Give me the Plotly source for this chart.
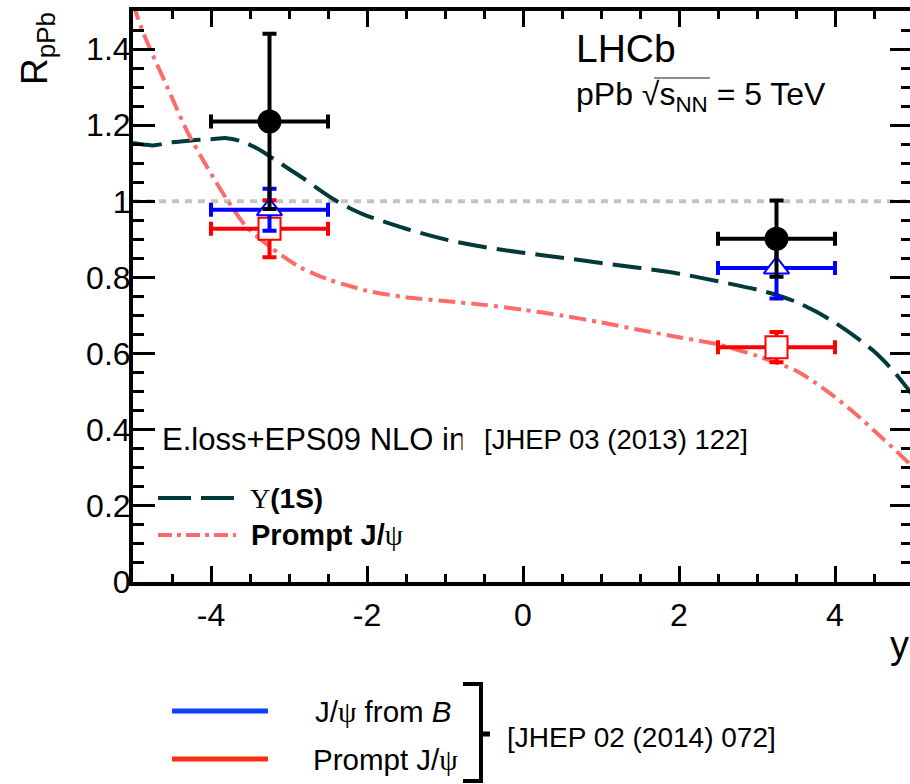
import plotly.graph_objects as go

# ---------------- data ----------------
# Theory: E.loss+EPS09 NLO, Upsilon(1S)
ups_th_x = [-5.0, -4.75, -4.5, -4.25, -4.0, -3.8, -3.6, -3.4, -3.2, -3.0, -2.8, -2.6, -2.4, -2.2,
            -2.0, -1.5, -1.0, -0.5, 0.0, 0.5, 1.0, 1.5, 2.0, 2.5, 3.0, 3.25, 3.5, 3.75, 4.0, 4.25,
            4.5, 4.75, 5.0]
ups_th_y = [1.153, 1.147, 1.155, 1.160, 1.163, 1.166, 1.157, 1.138, 1.112, 1.085, 1.058, 1.029,
            1.002, 0.980, 0.962, 0.928, 0.900, 0.880, 0.865, 0.852, 0.838, 0.825, 0.810, 0.790,
            0.768, 0.754, 0.736, 0.711, 0.681, 0.646, 0.606, 0.554, 0.490]
# Theory: E.loss+EPS09 NLO, prompt J/psi
jpsi_th_x = [-5.0, -4.9, -4.78, -4.56, -4.31, -4.05, -3.79, -3.54, -3.24, -2.86, -2.5, -2.26,
             -2.0, -1.5, -1.0, -0.5, 0.0, 0.5, 1.0, 1.5, 2.0, 2.5, 3.0, 3.5, 3.75, 4.0, 4.25,
             4.5, 4.75, 5.0]
jpsi_th_y = [1.52, 1.46, 1.40, 1.30, 1.186, 1.09, 1.003, 0.932, 0.880, 0.827, 0.795, 0.780,
             0.765, 0.748, 0.738, 0.728, 0.715, 0.700, 0.682, 0.662, 0.643, 0.624, 0.594, 0.555,
             0.523, 0.486, 0.444, 0.398, 0.351, 0.302]

# Measurements (rapidity bins)
bin_x = [-3.25, 3.25]
bin_xerr = [0.75, 0.75]
ups_y = [1.21, 0.902]
ups_err = [0.23, 0.10]
bjpsi_y = [0.978, 0.825]
bjpsi_err = [0.055, 0.08]
pjpsi_y = [0.928, 0.617]
pjpsi_err = [0.075, 0.04]

y_tickvals = [0, 0.2, 0.4, 0.6, 0.8, 1.0, 1.2, 1.4]
y_ticktext = ["0", "0.2", "0.4", "0.6", "0.8", "1", "1.2", "1.4"]
x_tickvals = [-4, -2, 0, 2, 4]
x_ticktext = ["-4", "-2", "0", "2", "4"]

# ---------------- geometry helpers (pixel -> paper) ----------------
W, H = 910, 784
L, R, T, B = 133, 0, 11, 202
PW, PH = W - L - R, H - T - B


def xp(px):
    return (px - L) / PW


def yp(py):
    return (H - B - py) / PH


FONT = "Liberation Sans, Arial, Helvetica, sans-serif"
UPS_COL = "#003a3a"
JPSI_COL = "#ff6b6b"
SER = "<span style='font-family:Liberation Serif'>%s</span>"

fig = go.Figure()

fig.add_trace(go.Scatter(x=ups_th_x, y=ups_th_y, mode="lines",
                         line=dict(color=UPS_COL, width=4, dash="29px,10px", shape="spline",
                                   smoothing=0.8),
                         hoverinfo="skip"))
fig.add_trace(go.Scatter(x=jpsi_th_x, y=jpsi_th_y, mode="lines",
                         line=dict(color=JPSI_COL, width=4, dash="17px,6px,4px,6px", shape="spline",
                                   smoothing=0.8),
                         hoverinfo="skip"))

fig.add_trace(go.Scatter(x=bin_x, y=pjpsi_y, mode="markers",
                         marker=dict(symbol="square", size=22, color="white",
                                     line=dict(color="#ff0000", width=2)),
                         error_x=dict(type="data", array=bin_xerr, color="#ff0000", thickness=4, width=7),
                         error_y=dict(type="data", array=pjpsi_err, color="#ff0000", thickness=4, width=7)))
fig.add_trace(go.Scatter(x=bin_x, y=bjpsi_y, mode="markers",
                         marker=dict(symbol="triangle-up", size=22, color="white",
                                     line=dict(color="#0000ff", width=2)),
                         error_x=dict(type="data", array=bin_xerr, color="#0000ff", thickness=4, width=7),
                         error_y=dict(type="data", array=bjpsi_err, color="#0000ff", thickness=4, width=7)))
fig.add_trace(go.Scatter(x=bin_x, y=ups_y, mode="markers",
                         marker=dict(symbol="circle", size=24, color="black"),
                         error_x=dict(type="data", array=bin_xerr, color="black", thickness=4, width=7),
                         error_y=dict(type="data", array=ups_err, color="black", thickness=4, width=7)))
# invisible trace to bring the right-hand tick axis to life
fig.add_trace(go.Scatter(x=[0], y=[0], yaxis="y2", mode="markers",
                         marker=dict(opacity=0), hoverinfo="skip"))

shapes = []
# reference line at R = 1
shapes.append(dict(type="line", xref="paper", x0=0, x1=1, yref="y", y0=1, y1=1,
                   line=dict(color="#c4c4c4", width=4, dash="7px,6px"), layer="below"))
# overline of the square root
shapes.append(dict(type="line", xref="paper", yref="paper", x0=xp(654), x1=xp(710),
                   y0=yp(78), y1=yp(78), line=dict(color="#666666", width=1.5)))
# legend keys for the theory curves
shapes.append(dict(type="line", xref="paper", yref="paper", x0=xp(158), x1=xp(236),
                   y0=yp(498), y1=yp(498), line=dict(color=UPS_COL, width=4, dash="33px,10px")))
shapes.append(dict(type="line", xref="paper", yref="paper", x0=xp(158), x1=xp(236),
                   y0=yp(535), y1=yp(535), line=dict(color=JPSI_COL, width=4, dash="14px,5px,4px,5px")))
# legend keys for the data
shapes.append(dict(type="line", xref="paper", yref="paper", x0=xp(172), x1=xp(268),
                   y0=yp(711), y1=yp(711), line=dict(color="#1040ff", width=5)))
shapes.append(dict(type="line", xref="paper", yref="paper", x0=xp(172), x1=xp(268),
                   y0=yp(759), y1=yp(759), line=dict(color="#ff3010", width=5)))
# bracket
shapes.append(dict(type="path", xref="paper", yref="paper",
                   path="M %f %f L %f %f L %f %f L %f %f" % (xp(463), yp(684), xp(481), yp(684),
                                                             xp(481), yp(781), xp(463), yp(781)),
                   line=dict(color="black", width=4)))
shapes.append(dict(type="line", xref="paper", yref="paper", x0=xp(481), x1=xp(490),
                   y0=yp(734), y1=yp(734), line=dict(color="black", width=5)))

annotations = []


def ann(text, x, y, size, xanchor="left", yanchor="middle", family=FONT, **kw):
    annotations.append(dict(text=text, x=xp(x), y=yp(y), xref="paper", yref="paper",
                            xanchor=xanchor, yanchor=yanchor, showarrow=False,
                            font=dict(family=family, size=size, color="black"), **kw))


ann("R<sub>pPb</sub>", 37, 49, 37, xanchor="center", textangle=-90)
ann("y", 899, 645, 38, xanchor="center")
ann("LHCb", 574, 49, 39)
ann("pPb \u221as<sub>NN</sub> = 5 TeV", 574, 97, 32)
ann("E.loss+EPS09 NLO in", 160, 439, 31)
# white mask that cuts the end of the previous text, as in the original
ann("&nbsp;", 462, 439, 20, width=20, height=40, bgcolor="white", borderpad=0)
ann("[JHEP 03 (2013) 122]", 482, 439, 27.5)
ann(SER % "\u03a5" + "<b>(1S)</b>", 248, 498, 28)
ann("<b>Prompt J/</b>" + SER % "\u03c8", 249, 535, 29)
ann("J/" + SER % "\u03c8" + " from <i>B</i>", 313, 711, 29.5)
ann("Prompt J/" + SER % "\u03c8", 311, 759, 29.5)
ann("[JHEP 02 (2014) 072]", 505, 737, 28)

TICKFONT = dict(family=FONT, size=32, color="black")

fig.update_layout(
    width=W, height=H,
    margin=dict(l=L, r=R, t=T, b=B, pad=0),
    paper_bgcolor="white", plot_bgcolor="white",
    showlegend=False,
    font=dict(family=FONT, size=32, color="black"),
    shapes=shapes, annotations=annotations,
    xaxis=dict(range=[-5, -5 + PW / 78.0], showline=True, linewidth=4, linecolor="black",
               mirror="ticks", ticks="inside", ticklen=16, tickwidth=3, tickcolor="black",
               tickmode="array", tickvals=x_tickvals, ticktext=x_ticktext,
               minor=dict(dtick=0.5, tick0=0, ticks="inside", ticklen=8, tickwidth=3,
                          tickcolor="black", showgrid=False),
               showgrid=False, zeroline=False, tickfont=TICKFONT, ticklabelstandoff=2),
    yaxis=dict(range=[0, 1.5], showline=True, linewidth=4, linecolor="black", mirror=False,
               ticks="inside", ticklen=22, tickwidth=3, tickcolor="black",
               tickmode="array", tickvals=y_tickvals, ticktext=y_ticktext,
               minor=dict(dtick=0.05, tick0=0, ticks="inside", ticklen=11, tickwidth=3,
                          tickcolor="black", showgrid=False),
               showgrid=False, zeroline=False, tickfont=TICKFONT, ticklabelstandoff=-8),
    yaxis2=dict(range=[0, 1.5], overlaying="y", side="right", showline=False,
                ticks="inside", ticklen=20, tickwidth=3, tickcolor="black",
                tickmode="array", tickvals=y_tickvals, showticklabels=False,
                minor=dict(dtick=0.05, tick0=0, ticks="inside", ticklen=9, tickwidth=3,
                           tickcolor="black", showgrid=False),
                showgrid=False, zeroline=False),
)

fig.write_html("out.html")
